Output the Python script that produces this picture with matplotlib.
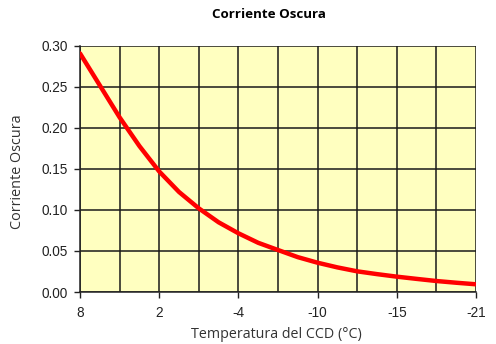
import matplotlib
matplotlib.use("Agg")
import matplotlib.pyplot as plt

# categorias del eje x (temperatura del CCD)
temps = ['8', '5', '2', '-1', '-4', '-7', '-10', '-12', '-15', '-18', '-21']
# corriente oscura, cada media categoria
pos_curva = [0, 0.5, 1, 1.5, 2, 2.5, 3, 3.5, 4, 4.5, 5,
             5.5, 6, 6.5, 7, 7.5, 8, 8.5, 9, 9.5, 10]
corriente = [0.291, 0.252, 0.213, 0.178, 0.147, 0.122, 0.102, 0.085, 0.0716, 0.060, 0.0512,
             0.0425, 0.0357, 0.030, 0.0252, 0.0218, 0.0187, 0.016, 0.0134, 0.0113, 0.0094]
yticks = [0.00, 0.05, 0.10, 0.15, 0.20, 0.25, 0.30]

fig = plt.figure(figsize=(4.96, 3.44), dpi=100)
ax = fig.add_axes([80/496, 1-292/344, 396/496, 246/344])
ax.set_facecolor('#ffffc0')

ax.plot(pos_curva, corriente, color='#ff0000', lw=3.2, solid_capstyle='round',
        solid_joinstyle='round', zorder=3)

pos = list(range(len(temps)))
ax.set_xlim(0, len(temps)-1)
ax.set_ylim(0, 0.30)
ax.set_xticks(pos)
ax.set_xticklabels([t if i % 2 == 0 else '' for i, t in enumerate(temps)])
ax.set_yticks(yticks)
ax.set_yticklabels(['%.2f' % v for v in yticks])
ax.grid(True, color='#1a1a1a', lw=1.1)
ax.set_axisbelow(True)

for s in ['top', 'right']:
    ax.spines[s].set_visible(False)
for s in ['left', 'bottom']:
    ax.spines[s].set_color('#222222')
    ax.spines[s].set_linewidth(1.1)

ax.tick_params(direction='out', length=4, width=1, color='#222222',
               labelsize=9.8, labelcolor='#222222', pad=5)
ax.tick_params(axis='x', pad=6)
for lab in ax.get_xticklabels() + ax.get_yticklabels():
    lab.set_fontfamily('Liberation Sans')
# sin marca en las categorias sin etiqueta
for i, t in enumerate(ax.xaxis.get_major_ticks()):
    if i % 2 == 1:
        t.tick1line.set_visible(False)

fig.text(269/496, 1-15/344, 'Corriente Oscura', ha='center', va='center',
         fontsize=9.6, fontweight='bold', family='Open Sans')
fig.text(18/496, 1-172/344, 'Corriente Oscura', ha='center', va='center',
         rotation=90, fontsize=10.4, family='Open Sans', color='#333333')
fig.text(276/496, 1-334/344, 'Temperatura del CCD (°C)', ha='center', va='center',
         fontsize=10.3, family='Open Sans', color='#333333')

fig.savefig('out.png', dpi=100)
